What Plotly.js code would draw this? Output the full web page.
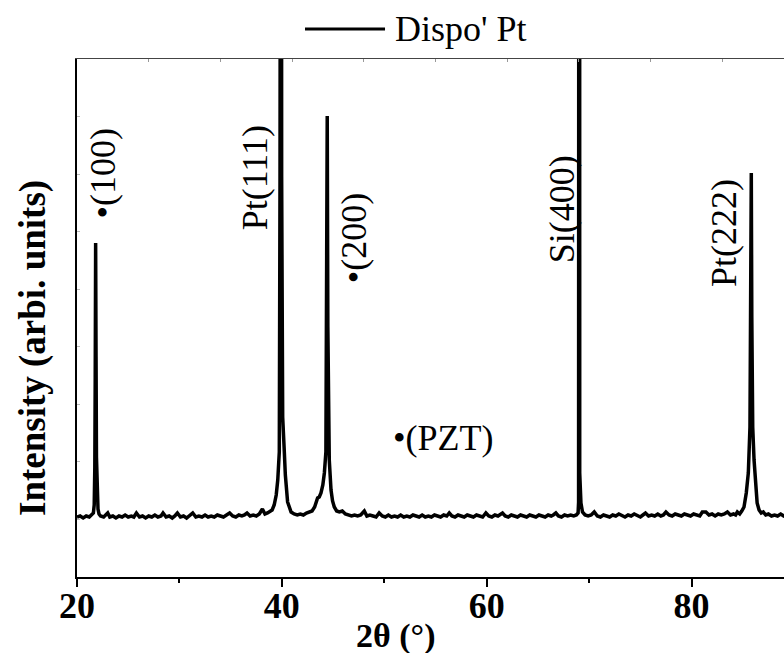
<!DOCTYPE html>
<html>
<head>
<meta charset="utf-8">
<script src="https://cdn.plot.ly/plotly-3.0.1.min.js"></script>
<style>
html, body { margin: 0; padding: 0; overflow: hidden; background: #fff; }
#chart { width: 800px; height: 653px; }
</style>
</head>
<body>
<div id="chart"></div>
<script>
// 2-theta (degrees) and intensity (arbitrary units)
var twoTheta = [
  20.0, 20.3, 20.6, 20.9, 21.2, 21.45, 21.6, 21.68, 21.74, 21.78,
  21.82, 21.86, 21.9, 21.96, 22.05, 22.15, 22.3, 22.6, 22.85, 23.0,
  23.2, 23.5, 23.8, 24.1, 24.4, 24.7, 25.0, 25.3, 25.55, 25.8,
  26.1, 26.4, 26.7, 27.0, 27.3, 27.6, 27.9, 28.2, 28.4, 28.7,
  29.0, 29.3, 29.55, 29.8, 30.1, 30.4, 30.7, 31.0, 31.3, 31.6,
  31.9, 32.2, 32.5, 32.8, 33.1, 33.4, 33.7, 34.0, 34.3, 34.6,
  34.9, 35.2, 35.5, 35.8, 36.1, 36.35, 36.6, 36.9, 37.2, 37.5,
  37.8, 38.1, 38.35, 38.6, 38.8, 39.05, 39.25, 39.45, 39.6, 39.75,
  39.82, 39.87, 39.93, 39.98, 40.08, 40.24, 40.34, 40.56, 40.9, 41.2,
  41.5, 41.8, 42.1, 42.4, 42.68, 42.95, 43.2, 43.49, 43.65, 43.82,
  44.0, 44.15, 44.3, 44.37, 44.43, 44.49, 44.56, 44.63, 44.8, 44.95,
  45.12, 45.35, 45.61, 45.9, 46.2, 46.5, 46.8, 47.1, 47.4, 47.7,
  48.05, 48.3, 48.6, 48.9, 49.2, 49.5, 49.8, 50.1, 50.4, 50.7,
  51.0, 51.3, 51.6, 51.9, 52.2, 52.5, 52.8, 53.1, 53.4, 53.7,
  54.0, 54.3, 54.6, 54.9, 55.2, 55.5, 55.8, 56.1, 56.34, 56.6,
  56.9, 57.2, 57.5, 57.8, 58.1, 58.4, 58.7, 59.0, 59.3, 59.6,
  59.92, 60.2, 60.5, 60.8, 61.1, 61.54, 61.8, 62.1, 62.4, 62.7,
  63.0, 63.3, 63.6, 63.9, 64.2, 64.5, 64.8, 65.1, 65.4, 65.7,
  66.0, 66.3, 66.5, 66.75, 67.0, 67.3, 67.6, 67.9, 68.2, 68.5,
  68.75, 68.92, 68.97, 69.0, 69.05, 69.08, 69.12, 69.2, 69.35, 69.6,
  69.9, 70.2, 70.5, 70.8, 71.1, 71.4, 71.7, 72.0, 72.3, 72.6,
  72.9, 73.2, 73.5, 73.8, 74.1, 74.4, 74.7, 75.0, 75.25, 75.5,
  75.8, 76.1, 76.4, 76.7, 77.0, 77.25, 77.5, 77.8, 78.1, 78.4,
  78.7, 79.0, 79.3, 79.6, 79.9, 80.2, 80.5, 80.8, 81.05, 81.4,
  81.7, 82.0, 82.3, 82.6, 82.9, 83.2, 83.5, 83.8, 84.1, 84.3,
  84.47, 84.7, 84.9, 85.12, 85.34, 85.54, 85.7, 85.78, 85.83, 85.88,
  85.97, 86.1, 86.26, 86.4, 86.59, 86.8, 87.0, 87.24, 87.5, 87.8,
  88.1, 88.4, 88.7, 89.0, 89.3, 89.6, 90.0
];
var intensity = [
  60, 61, 59, 61, 60, 62, 64, 72, 110, 200,
  334, 220, 120, 82, 68, 63, 61, 60, 62, 64,
  60, 61, 59, 61, 60, 62, 60, 61, 60, 64,
  60, 61, 59, 61, 60, 62, 60, 61, 64, 60,
  61, 59, 61, 64, 60, 61, 59, 61, 64, 60,
  61, 60, 62, 60, 61, 60, 62, 61, 60, 62,
  64, 61, 60, 62, 61, 62, 64, 61, 62, 61,
  63, 68, 63, 64, 65, 67, 72, 82, 97, 125,
  400, 1500, 1500, 400, 160, 125, 102, 75, 65, 63,
  62, 63, 62, 64, 65, 66, 70, 79, 80, 84,
  92, 104, 125, 250, 461, 250, 140, 117, 87, 76,
  70, 66, 65, 66, 63, 62, 61, 62, 61, 62,
  66, 61, 62, 61, 60, 64, 61, 60, 62, 60,
  61, 60, 62, 60, 61, 60, 62, 61, 60, 62,
  60, 61, 60, 62, 61, 60, 62, 61, 64, 61,
  60, 62, 61, 60, 62, 61, 60, 62, 61, 60,
  64, 61, 60, 62, 61, 64, 61, 60, 62, 61,
  60, 62, 61, 60, 62, 61, 60, 62, 61, 60,
  62, 61, 62, 64, 61, 60, 62, 61, 62, 61,
  62, 64, 75, 3000, 3000, 104, 92, 74, 65, 62,
  61, 62, 65, 61, 60, 62, 61, 60, 62, 61,
  63, 61, 60, 62, 61, 63, 61, 60, 62, 64,
  61, 62, 61, 63, 61, 62, 65, 62, 61, 63,
  62, 61, 63, 62, 61, 63, 62, 61, 65, 65,
  62, 63, 61, 63, 62, 63, 65, 62, 63, 62,
  65, 63, 66, 70, 84, 104, 150, 260, 404, 260,
  150, 117, 87, 74, 67, 64, 65, 62, 63, 61,
  62, 61, 63, 61, 62, 61, 62
];
var seriesName = "Dispo' Pt";
var xTickVals = [20, 40, 60, 80];
var xTitle = '2\u03b8 (\u00b0)';
var yTitle = 'Intensity (arbi. units)';
var peakLabels = ['\u2022(100)', 'Pt(111)', '\u2022(200)', 'Si(400)', 'Pt(222)', '\u2022(PZT)'];

var serif = '"Liberation Serif", "Times New Roman", Times, serif';

var trace = {
  x: twoTheta, y: intensity, type: 'scatter', mode: 'lines', name: seriesName,
  line: {color: '#000', width: 3.5}, xaxis: 'x', yaxis: 'y', hoverinfo: 'x+y'
};
var frameTrace = {x: [], y: [], type: 'scatter', mode: 'lines', xaxis: 'x2', yaxis: 'y2', showlegend: false, hoverinfo: 'skip'};

var labelPos = [
  {x: 22.49, y: 404, a: -90},
  {x: 37.41, y: 399, a: -90},
  {x: 47.07, y: 339, a: -90},
  {x: 67.37, y: 368, a: -90},
  {x: 83.17, y: 344, a: -90},
  {x: 55.76, y: 139, a: 0}
];
var annotations = peakLabels.map(function (t, i) {
  return {
    text: t, x: labelPos[i].x, y: labelPos[i].y, xref: 'x', yref: 'y',
    textangle: labelPos[i].a, showarrow: false, xanchor: 'center', yanchor: 'middle',
    font: {family: serif, size: 36, color: '#000'}
  };
});
// legend text
annotations.push({
  text: seriesName, xref: 'paper', yref: 'paper', x: 0.4407, y: 1.057,
  xanchor: 'left', yanchor: 'middle', showarrow: false,
  font: {family: serif, size: 36, color: '#000'}
});
// axis titles (offset from plot centre, as in the reference)
annotations.push({
  text: xTitle, xref: 'paper', yref: 'paper', x: 0.445, y: -0.114,
  xanchor: 'center', yanchor: 'middle', showarrow: false,
  font: {family: serif, size: 34, color: '#000', weight: 'bold'}
});
annotations.push({
  text: yTitle, xref: 'paper', yref: 'paper', x: -0.0614, y: 0.442, textangle: -90,
  xanchor: 'center', yanchor: 'middle', showarrow: false,
  font: {family: serif, size: 37, color: '#000', weight: 'bold'}
});

var layout = {
  width: 800, height: 653,
  margin: {l: 77, r: 6, t: 59, b: 76, pad: 0},
  paper_bgcolor: '#fff', plot_bgcolor: '#fff',
  showlegend: false,
  xaxis: {
    range: [20, 90], tickvals: xTickVals, ticks: 'outside', ticklen: 8, tickwidth: 2, tickcolor: '#000',
    showline: true, linewidth: 2, linecolor: '#000', showgrid: false, zeroline: false,
    tickfont: {family: serif, size: 36, color: '#000', weight: 'bold'},
    ticklabelstandoff: -12,
    minor: {tickvals: [30, 50, 70], ticks: 'outside', ticklen: 4, tickwidth: 2, tickcolor: '#000', showgrid: false},
    fixedrange: true
  },
  yaxis: {
    range: [0, 518], showticklabels: false, ticks: '', showline: true, linewidth: 2, linecolor: '#000',
    showgrid: false, zeroline: false, fixedrange: true
  },
  xaxis2: {
    overlaying: 'x', side: 'top', anchor: 'y2', range: [0, 10], dtick: 1, ticks: 'inside', ticklen: 3,
    tickwidth: 1, tickcolor: '#999', showline: true, linewidth: 1, linecolor: '#444',
    showticklabels: false, showgrid: false, zeroline: false, fixedrange: true
  },
  yaxis2: {
    overlaying: 'y', side: 'left', anchor: 'x2', range: [0, 9], dtick: 1, ticks: 'inside', ticklen: 3,
    tickwidth: 1, tickcolor: '#bbb', showline: false, showticklabels: false, showgrid: false, zeroline: false,
    fixedrange: true
  },
  shapes: [{
    type: 'line', xref: 'paper', yref: 'paper', x0: 0.318, x1: 0.4296, y0: 1.058, y1: 1.058,
    line: {color: '#000', width: 3}
  }],
  annotations: annotations
};

Plotly.newPlot('chart', [trace, frameTrace], layout, {displayModeBar: false, staticPlot: true});
</script>
</body>
</html>
